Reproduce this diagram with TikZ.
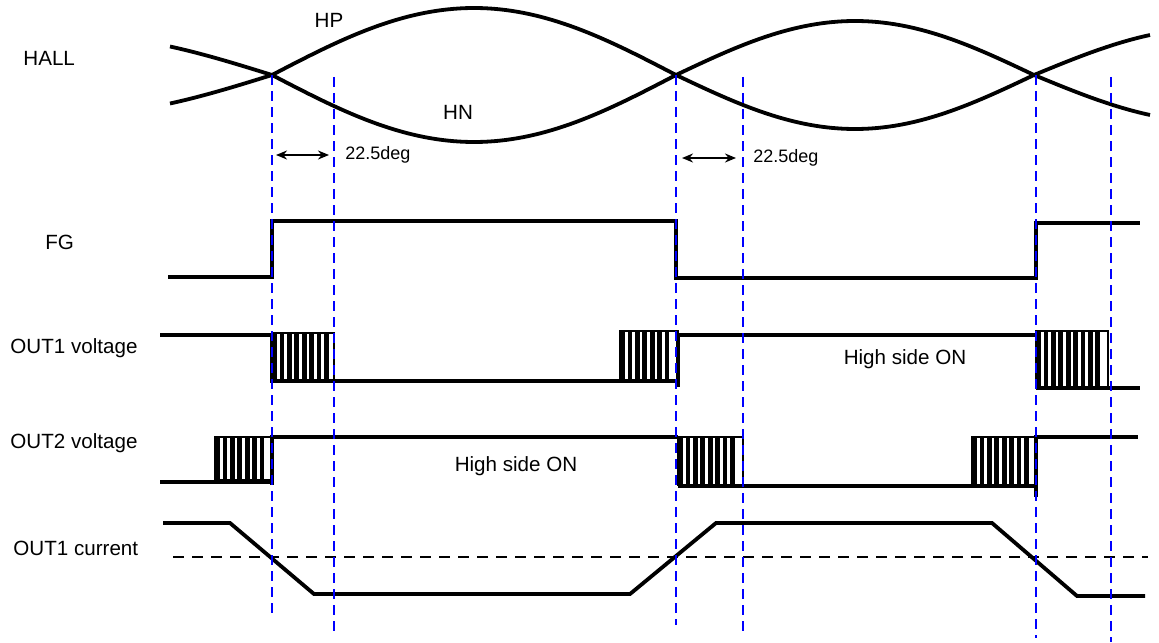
\documentclass[tikz,border=0pt]{standalone}
\usepackage{fontspec}
\setmainfont{Liberation Sans}
\usetikzlibrary{arrows.meta}
\definecolor{guideblue}{RGB}{0,0,255}

% hatched PWM block: x1, x2, top, bottom
\newcommand{\pwmblock}[4]{%
  \draw[line width=0.6pt] (#1,#3) rectangle (#2,#4);
  \pgfmathtruncatemacro{\nbars}{(#2-#1)/7.4}
  \foreach \k in {1,...,\nbars}
    \draw[line width=2.4pt] ({#1+7.4*\k-4.8},#3) -- ({#1+7.4*\k-4.8},#4);
}

\begin{document}
\begin{tikzpicture}[
  x=0.5pt, y=-0.5pt,
  every node/.style={font=\fontsize{10.3}{12}\selectfont, inner sep=0pt},
  sig/.style={line width=1.9pt, line join=miter},
  guide/.style={guideblue, line width=1.35pt, dash pattern=on 5pt off 3pt},
  thr/.style={black, line width=1.2pt, dash pattern=on 5.5pt off 4pt},
  dim/.style={{Stealth[length=5.5pt,width=4.5pt]}-{Stealth[length=5.5pt,width=4.5pt]}, line width=1.2pt},
  lbl/.style={anchor=west},
  deg/.style={anchor=west, font=\fontsize{9}{11}\selectfont}
]
\useasboundingbox (0,0) rectangle (1159,642);

% labels
\node[lbl] (hall) at (23,58) {HALL};
\node[lbl] (fg) at (45,242) {FG};
\node[lbl] (out1v) at (10,348) {OUT1 voltage};
\node[lbl] (out2v) at (10,443) {OUT2 voltage};
\node[lbl] (out1i) at (13,548) {OUT1 current};
\node (hp) at (329,20) {HP};
\node (hn) at (458,112) {HN};
\node (hson1) at (905,359) {High side ON};
\node (hson2) at (516,466) {High side ON};

% hall signals
\draw[sig] plot[domain=170:272, samples=30] (\x,{75-40*sin((272-\x)/404*180)});
\draw[sig] plot[domain=170:272, samples=30] (\x,{75+40*sin((272-\x)/404*180)});
\draw[sig] plot[domain=272:676, samples=70] (\x,{75-67*sin((\x-272)/404*180)});
\draw[sig] plot[domain=272:676, samples=70] (\x,{75+67*sin((\x-272)/404*180)});
\draw[sig] plot[domain=676:1034, samples=70] (\x,{75-54*sin((\x-676)/358*180)});
\draw[sig] plot[domain=676:1034, samples=70] (\x,{75+54*sin((\x-676)/358*180)});
\draw[sig] plot[domain=1034:1150, samples=30] (\x,{75-47*sin((\x-1034)/358*180)});
\draw[sig] plot[domain=1034:1150, samples=30] (\x,{75+47*sin((\x-1034)/358*180)});

% 22.5deg spans
\coordinate (a1l) at (276,155);
\coordinate (a1r) at (329,155);
\coordinate (a2l) at (682,158);
\coordinate (a2r) at (736,158);
\draw[dim] (a1l) -- (a1r);
\draw[dim] (a2l) -- (a2r);
\node[deg] (deg1) at (345,155) {22.5deg};
\node[deg] (deg2) at (753,158) {22.5deg};

% FG
\draw[sig] (168,277) -- (272,277) -- (272,221) -- (676,221) -- (676,278) -- (1036,278) -- (1036,223) -- (1140,223);

% OUT1 voltage
\pwmblock{272}{334}{333}{380}
\pwmblock{620}{678}{331}{381}
\pwmblock{1036}{1108}{331}{387}
\draw[sig] (160,335) -- (272,335) -- (272,381) -- (678,381);
\draw[sig] (678,387) -- (678,335) -- (1036,335);
\draw[sig] (1036,388) -- (1140,388);

% OUT2 voltage
\pwmblock{215}{272}{437}{480}
\pwmblock{678}{743}{437}{485}
\pwmblock{972}{1036}{437}{485}
\draw[sig] (160,482) -- (272,482);
\draw[sig] (272,485) -- (272,437) -- (678,437);
\draw[sig] (678,486) -- (1036,486);
\draw[sig] (1036,497) -- (1036,437) -- (1138,437);

% OUT1 current
\draw[thr] (173,557) -- (1148,557);
\draw[sig] (163,523) -- (230,523) -- (314,594) -- (630,594) -- (716,523) -- (992,523) -- (1077,596) -- (1145,596);

% timing guides
\foreach \gx/\gt/\gb in {272/75/618, 334/77/636, 676/75/625, 743/77/632, 1036/75/638, 1111/77/642}
  \draw[guide] (\gx,\gt) -- (\gx,\gb);
\end{tikzpicture}
\end{document}
